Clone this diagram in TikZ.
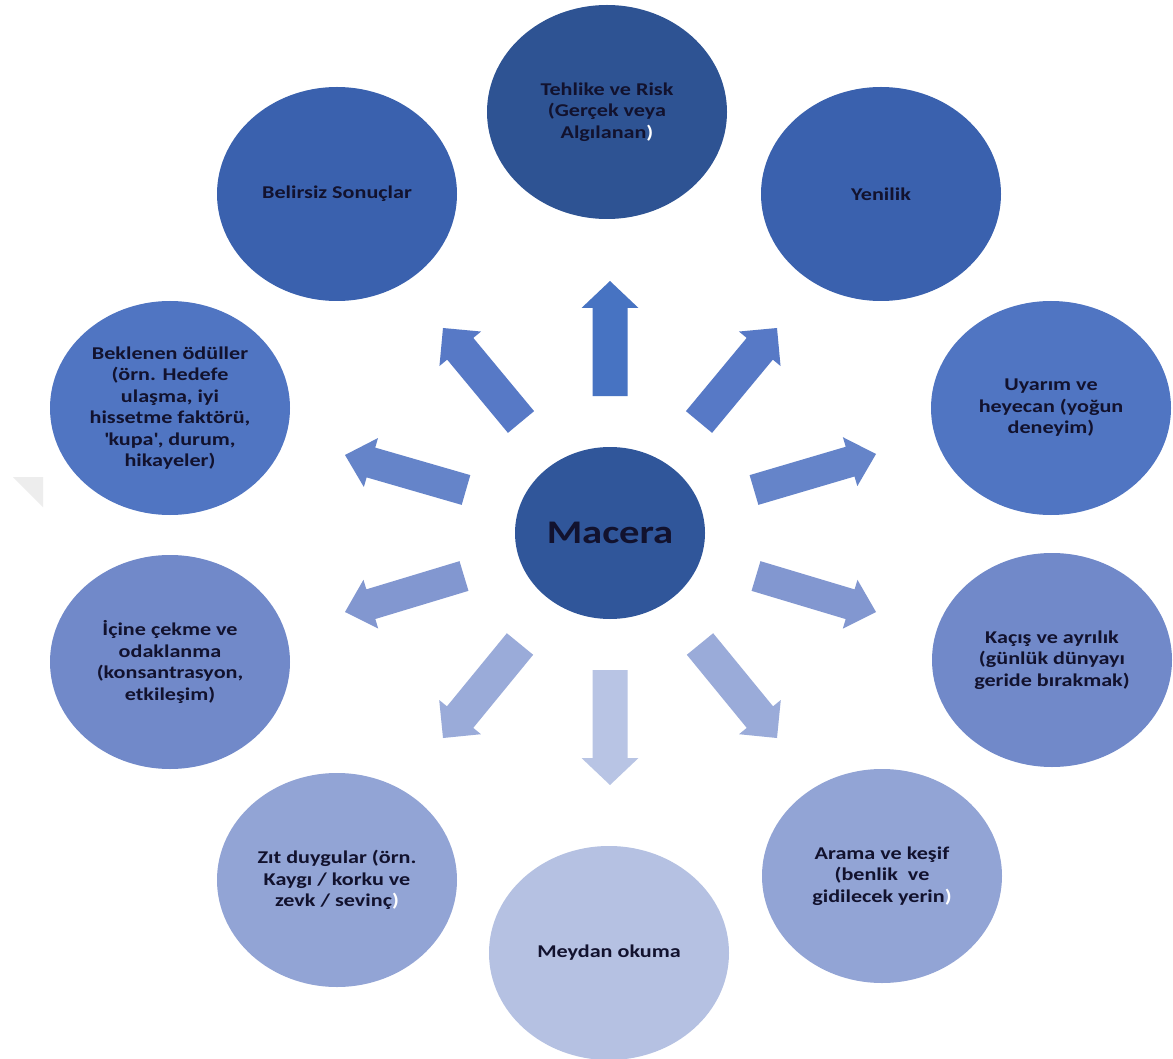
\documentclass[tikz,border=0pt]{standalone}
\usepackage{fontspec}
\setmainfont{Carlito}[FakeStretch=1.23]
\usetikzlibrary{shapes.geometric,calc}
\definecolor{txt}{HTML}{12122E}
\definecolor{cT}{HTML}{2E5393}
\definecolor{cM}{HTML}{30569A}
\definecolor{cA}{HTML}{3A61AE}
\definecolor{cB}{HTML}{5075C2}
\definecolor{cC}{HTML}{7189C9}
\definecolor{cD}{HTML}{92A4D5}
\definecolor{cE}{HTML}{B5C1E2}
\definecolor{a1}{HTML}{4773C2}
\definecolor{a2}{HTML}{5779C6}
\definecolor{a3}{HTML}{6584C9}
\definecolor{a4}{HTML}{8297D0}
\definecolor{a5}{HTML}{9AABD9}
\definecolor{a6}{HTML}{B8C4E4}
\newcommand\blockarr[6]{%
  \coordinate (#1t) at (#2);
  \coordinate (#1p) at (#3);
  \coordinate (#1b) at ($(#1p)!27pt!(#1t)$);
  \fill[#4] ($(#1t)!#5!90:(#1p)$) -- ($(#1b)!#5!-90:(#1t)$) -- ($(#1b)!#6!-90:(#1t)$)
    -- (#1p) -- ($(#1b)!#6!90:(#1t)$) -- ($(#1b)!#5!90:(#1t)$) -- ($(#1t)!#5!-90:(#1p)$) -- cycle;
}
\begin{document}
\begin{tikzpicture}[x=1pt,y=-1pt,
  bub/.style={ellipse, minimum width=240pt, minimum height=214pt, inner sep=0pt,
    align=center, font=\bfseries\fontsize{18}{21.5}\selectfont, text=txt}]
\useasboundingbox (0,0) rectangle (1173,1059);
\fill[white] (0,0) rectangle (1173,1059);
% faint gray mark at left edge
\fill[black!7] (13,477) -- (43,477) -- (43,507) -- cycle;
% outer bubbles
\node[bub, fill=cT] (tehlike) at (607,112) {Tehlike ve Risk\\(Gerçek veya\\Algılanan\textcolor{white}{)}};
\node[bub, fill=cA] (belirsiz) at (337,194) {Belirsiz Sonuçlar};
\node[bub, fill=cA] (yenilik) at (881,194) {Yenilik};
\node[bub, fill=cB] (uyarim) at (1051,408) {Uyarım ve\\heyecan (yoğun\\deneyim)};
\node[bub, fill=cB] (beklenen) at (170,408) {Beklenen ödüller\\(örn. Hedefe\\ulaşma, iyi\\hissetme faktörü,\\\textquotesingle kupa\textquotesingle, durum,\\hikayeler)};
\node[bub, fill=cC] (kacis) at (1052,660) {Kaçış ve ayrılık\\(günlük dünyayı\\geride bırakmak)};
\node[bub, fill=cC] (icine) at (170,662) {İçine çekme ve\\odaklanma\\(konsantrasyon,\\etkileşim)};
\node[bub, fill=cD] (arama) at (882,876) {Arama ve keşif\\(benlik\ \ ve\\gidilecek yerin\textcolor{white}{)}};
\node[bub, fill=cD] (zit) at (337,880) {Zıt duygular (örn.\\Kaygı / korku ve\\zevk / sevinç\textcolor{white}{)}};
\node[bub, fill=cE] (meydan) at (609,953) {Meydan okuma};
% centre
\node[ellipse, fill=cM, minimum width=190pt, minimum height=172pt, inner sep=0pt,
  font=\bfseries\fontsize{33}{40}\selectfont, text=txt] (macera) at (610,533) {Macera};
% block arrows
\blockarr{u}{610,396}{610,281}{a1}{17.5pt}{28.5pt}
\blockarr{ur}{699,422}{777,328}{a2}{17pt}{27pt}
\blockarr{ul}{521,422}{443,328}{a2}{17pt}{27pt}
\blockarr{ru}{754,490}{876,454}{a3}{15.5pt}{25.5pt}
\blockarr{lu}{466,490}{345,455}{a3}{15.5pt}{25.5pt}
\blockarr{rd}{756,576}{876,612}{a4}{15.5pt}{25.5pt}
\blockarr{ld}{464,576}{345,612}{a4}{15.5pt}{25.5pt}
\blockarr{dr}{700,644}{777,738}{a5}{17pt}{27pt}
\blockarr{dl}{520,644}{443,738}{a5}{17pt}{27pt}
\blockarr{d}{610,670}{610,785}{a6}{17.5pt}{28.5pt}
\end{tikzpicture}
\end{document}
